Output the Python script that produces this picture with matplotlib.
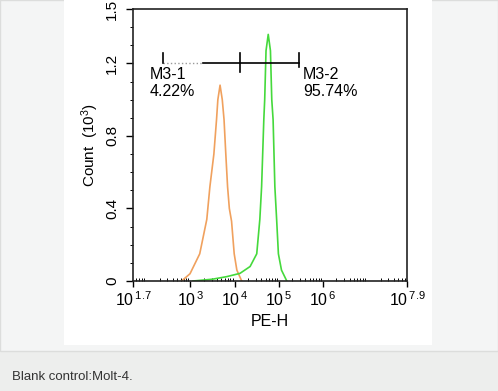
import numpy as np
import matplotlib
matplotlib.use("Agg")
import matplotlib.pyplot as plt
from matplotlib.patches import Rectangle
from matplotlib.ticker import FixedLocator, NullFormatter

plt.rcParams['font.family'] = ['Liberation Sans', 'DejaVu Sans']

# histogram outlines: log10(PE-H) vs count (x 10^3)
blank_log = [2.80, 2.99, 3.21, 3.37, 3.44, 3.53, 3.59, 3.62, 3.67, 3.72, 3.76, 3.80, 3.84, 3.88, 3.93, 3.99, 4.05, 4.16]
blank_cnt = [0.00, 0.04, 0.15, 0.34, 0.52, 0.70, 0.89, 1.00, 1.08, 1.00, 0.89, 0.70, 0.52, 0.40, 0.33, 0.15, 0.06, 0.00]
stain_log = [3.06, 3.50, 3.82, 4.12, 4.35, 4.50, 4.57, 4.61, 4.66, 4.68, 4.71, 4.76, 4.81, 4.84, 4.87, 4.91, 4.95, 4.99, 5.06, 5.18]
stain_cnt = [0.00, 0.01, 0.024, 0.042, 0.08, 0.15, 0.34, 0.52, 0.89, 1.00, 1.27, 1.36, 1.27, 1.00, 0.89, 0.52, 0.34, 0.15, 0.06, 0.00]

# gate markers (log10 positions)
gate_start, gate_split, gate_end = 2.38, 4.12, 5.46
gate_dotted_end = 3.28
gate_y = 1.2
gate_labels = ["M3-1\n4.22%", "M3-2\n95.74%"]

xtick_logs = [1.7, 3, 4, 5, 6, 7.9]
ytick_vals = [0, 0.4, 0.8, 1.2, 1.5]
ytick_labels = ["0", "0.4", "0.8", "1.2", "1.5"]

fig = plt.figure(figsize=(4.98, 3.91), dpi=100)
fig.patch.set_facecolor("#edeeed")
# page background pieces
fig.patches.append(Rectangle((0, 1 - 351 / 391), 1, 351 / 391, transform=fig.transFigure,
                             facecolor="#f4f5f5", edgecolor="#dcdddc", lw=1, zorder=-10))
fig.patches.append(Rectangle((64 / 498, 1 - 345 / 391), 368 / 498, 345 / 391, transform=fig.transFigure,
                             facecolor="white", edgecolor="none", zorder=-9))

ax = fig.add_axes([133 / 498, 1 - 281 / 391, 274 / 498, 272 / 391])
ax.set_zorder(5)
ax.set_facecolor("white")
ax.set_xscale("log")
ax.set_xlim(10 ** 1.7, 10 ** 7.9)
ax.set_ylim(0, 1.5)

ax.plot(10 ** np.array(blank_log), blank_cnt, color="#f0a15e", lw=1.2)
ax.plot(10 ** np.array(stain_log), stain_cnt, color="#45d93c", lw=1.2)

# markers
ax.plot([10 ** gate_start, 10 ** gate_dotted_end], [gate_y, gate_y], color="#9a9a9a", lw=1, ls=":")
ax.plot([10 ** gate_dotted_end, 10 ** gate_end], [gate_y, gate_y], color="black", lw=1.2)
ax.plot([10 ** gate_start] * 2, [gate_y, 1.255], color="black", lw=1.2)
ax.plot([10 ** gate_split] * 2, [1.15, 1.255], color="black", lw=1.2)
ax.plot([10 ** gate_end] * 2, [1.18, 1.255], color="black", lw=1.2)
ax.text(10 ** 2.08, 1.182, gate_labels[0], fontsize=11.5, va="top", ha="left", linespacing=1.2)
ax.text(10 ** 5.55, 1.182, gate_labels[1], fontsize=11.5, va="top", ha="left", linespacing=1.2)

for s in ax.spines.values():
    s.set_linewidth(1.2)
    s.set_color("#222222")

ax.xaxis.set_major_locator(FixedLocator([10 ** v for v in xtick_logs]))
ax.set_xticklabels([r"$\mathregular{10^{\,%s}}$" % (str(v) if v % 1 else str(int(v))) for v in xtick_logs])
minor = [m * 10 ** d for d in range(1, 8) for m in range(2, 10)
         if 10 ** 1.7 < m * 10 ** d < 10 ** 7.9]
ax.xaxis.set_minor_locator(FixedLocator(minor))
ax.xaxis.set_minor_formatter(NullFormatter())
ax.tick_params(axis="x", which="major", direction="out", length=4, width=1, labelsize=11.5, pad=3)
ax.tick_params(axis="x", which="minor", direction="in", length=2.5, width=0.7)

ax.set_yticks(ytick_vals)
ax.set_yticklabels(ytick_labels, rotation=90, va="center")
ax.yaxis.set_minor_locator(FixedLocator(np.arange(0.1, 1.5, 0.1)))
ax.tick_params(axis="y", which="major", direction="out", length=5, width=1, labelsize=11, pad=5)
ax.tick_params(axis="y", which="minor", direction="out", length=2, width=0.7)

ax.set_xlabel("PE-H", fontsize=11.5, labelpad=3)
ax.set_ylabel(r"Count  $\mathregular{(10^{3})}$", fontsize=11, labelpad=3)

fig.text(12 / 498, 1 - 377 / 391, "Blank control:Molt-4.", fontsize=9.5, color="#333333",
         ha="left", va="center")

fig.savefig("out.png", dpi=100, facecolor=fig.get_facecolor())
